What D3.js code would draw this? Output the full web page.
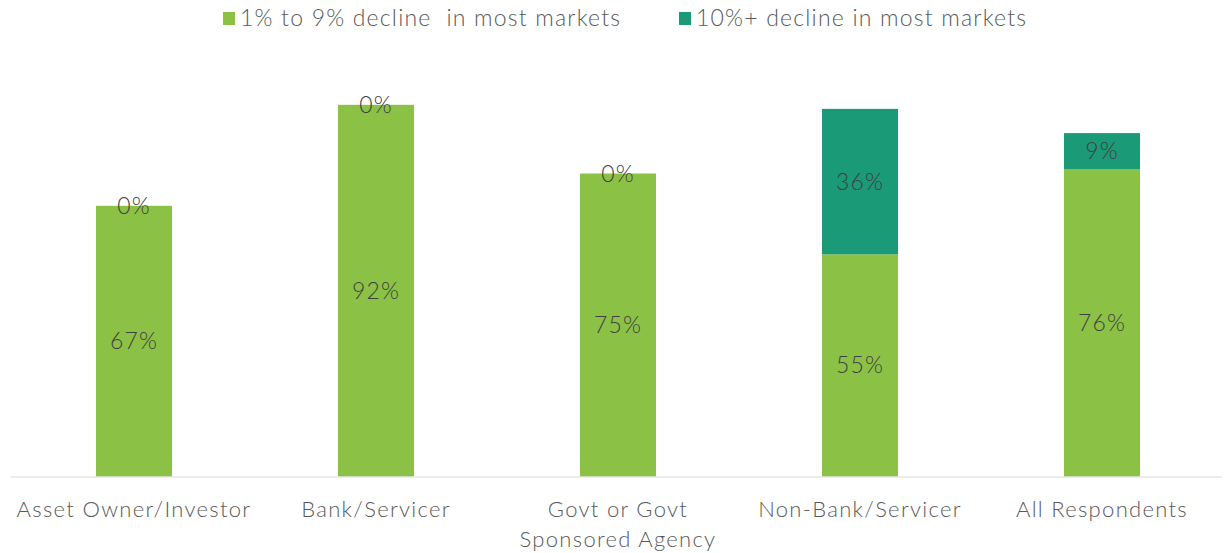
<!DOCTYPE html>
<html>
<head>
<meta charset="utf-8">
<script src="https://cdn.jsdelivr.net/npm/d3@7"></script>
<style>
  html, body { margin: 0; padding: 0; background: #fff; }
  svg text { font-family: "Lato", "Open Sans", sans-serif; font-weight: 300; white-space: pre; }
</style>
</head>
<body>
<svg id="chart" width="1226" height="553"></svg>
<script>
// Survey categories and stacked shares (%)
const categories = ["Asset Owner/Investor", "Bank/Servicer", "Govt or Govt Sponsored Agency", "Non-Bank/Servicer", "All Respondents"];
const categoryLines = [["Asset Owner/Investor"], ["Bank/Servicer"], ["Govt or Govt", "Sponsored Agency"], ["Non-Bank/Servicer"], ["All Respondents"]];
const mildDecline = [67, 92, 75, 55, 76];   // 1% to 9% decline in most markets
const steepDecline = [0, 0, 0, 36, 9];      // 10%+ decline in most markets
const seriesNames = ["1% to 9% decline  in most markets", "10%+ decline in most markets"];
const seriesColors = ["#8bc246", "#1b9a77"];

const svg = d3.select("#chart");
const baseY = 476.5;

const x = d3.scaleBand().domain(categories).range([13, 1223]).paddingInner(0.686).paddingOuter(0.343);
const y = d3.scaleLinear().domain([0, 100]).range([baseY, 72.5]);

const rows = categories.map((c, i) => ({ cat: c, s0: mildDecline[i], s1: steepDecline[i] }));
const stacked = d3.stack().keys(["s0", "s1"])(rows);

// stacked bars
stacked.forEach((layer, li) => {
  svg.append("g").selectAll("rect").data(layer).join("rect")
    .attr("x", d => x(d.data.cat))
    .attr("width", x.bandwidth())
    .attr("y", d => y(d[1]))
    .attr("height", d => y(d[0]) - y(d[1]))
    .attr("fill", seriesColors[li]);
});

// baseline
svg.append("line")
  .attr("x1", 11).attr("x2", 1222)
  .attr("y1", baseY + 0.5).attr("y2", baseY + 0.5)
  .attr("stroke", "#d9d9d9").attr("stroke-width", 1.2);

// value labels centred in each segment
stacked.forEach((layer, li) => {
  svg.append("g").selectAll("text").data(layer).join("text")
    .attr("x", d => x(d.data.cat) + x.bandwidth() / 2)
    .attr("y", d => (y(d[0]) + y(d[1])) / 2)
    .attr("dy", "0.35em")
    .attr("text-anchor", "middle")
    .attr("font-size", 23)
    .attr("letter-spacing", 1.1)
    .attr("fill", "#404040")
    .text(d => Math.round(d[1] - d[0]) + "%");
});

// category labels
const xAxis = svg.append("g");
categories.forEach((c, i) => {
  const cx = x(c) + x.bandwidth() / 2;
  const t = xAxis.append("text")
    .attr("x", cx)
    .attr("y", 517)
    .attr("text-anchor", "middle")
    .attr("font-size", 22)
    .attr("letter-spacing", 1.3)
    .attr("fill", "#595959");
  categoryLines[i].forEach((line, j) => {
    t.append("tspan").attr("x", cx).attr("dy", j === 0 ? 0 : 30).text(line);
  });
});

// legend
const legendX = [223, 679];
seriesNames.forEach((name, i) => {
  const g = svg.append("g").attr("transform", `translate(${legendX[i]},0)`);
  g.append("rect").attr("x", 0).attr("y", 12).attr("width", 12).attr("height", 13).attr("fill", seriesColors[i]);
  g.append("text").attr("x", 17).attr("y", 18).attr("dy", "0.35em")
    .attr("font-size", 23).attr("letter-spacing", 1.2)
    .attr("fill", "#595959").text(name);
});
</script>
</body>
</html>
